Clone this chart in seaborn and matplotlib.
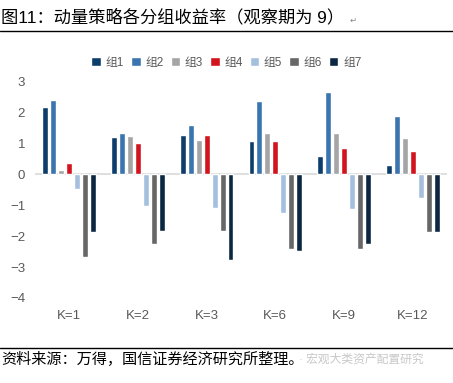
import pandas as pd
import numpy as np
import matplotlib
matplotlib.use('Agg')
import matplotlib.pyplot as plt
from matplotlib.lines import Line2D
import seaborn as sns

# %%
# data
categories = ['K=1', 'K=2', 'K=3', 'K=6', 'K=9', 'K=12']
groups = ['组1', '组2', '组3', '组4', '组5', '组6', '组7']
g1 = [2.17, 1.22, 1.28, 1.09, 0.60, 0.30]
g2 = [2.42, 1.35, 1.61, 2.36, 2.66, 1.90]
g3 = [0.15, 1.25, 1.12, 1.35, 1.35, 1.18]
g4 = [0.35, 1.00, 1.28, 1.09, 0.86, 0.76]
g5 = [-0.48, -1.04, -1.09, -1.26, -1.12, -0.75]
g6 = [-2.67, -2.24, -1.83, -2.43, -2.43, -1.88]
g7 = [-1.88, -1.83, -2.76, -2.49, -2.24, -1.88]
colors = ['#0D3D6B', '#3B75AF', '#A5A5A5', '#D2141E', '#A4C0DE', '#676767', '#0C2741']

# %%
# long format for seaborn
values = [g1, g2, g3, g4, g5, g6, g7]
rows = []
for grp, vals in zip(groups, values):
    for cat, v in zip(categories, vals):
        rows.append({'K': cat, 'group': grp, 'value': v})
df = pd.DataFrame(rows)

# %%
sns.set_style('white')
plt.rcParams['font.family'] = ['Liberation Sans', 'Noto Sans CJK SC', 'DejaVu Sans']

fig = plt.figure(figsize=(4.53, 3.83), dpi=100)
ax = fig.add_axes([0.077, 0.222, 0.91, 0.565])

sns.barplot(data=df, x='K', y='value', hue='group', order=categories,
            hue_order=groups, palette=colors, width=0.81, gap=0.25,
            saturation=1, ax=ax, legend=True)

ax.set_ylim(-4, 3)
ax.set_yticks(range(-4, 4))
ax.axhline(0, color='#D9D9D9', lw=1.2, zorder=0)
for s in ax.spines.values():
    s.set_visible(False)
ax.set_xlabel('')
ax.set_ylabel('')
ax.tick_params(axis='both', length=0, labelsize=9.5, colors='#595959')
ax.tick_params(axis='x', pad=9)
ax.tick_params(axis='y', pad=7)

handles, labels = ax.get_legend_handles_labels()
ax.legend_.remove()
fig.legend(handles, labels, loc='center', bbox_to_anchor=(0.5, 0.836), ncol=7,
           frameon=False, handlelength=0.8, handleheight=0.8, columnspacing=0.6,
           handletextpad=0.4, fontsize=8.5, labelcolor='#595959')

# title and source
fig.text(0.003, 0.955, '图11：动量策略各分组收益率（观察期为 9）', fontsize=12.4,
         ha='left', va='center', color='black')
fig.text(0.772, 0.945, '↵', fontsize=6, color='#888888', ha='left', va='center')
fig.add_artist(Line2D([0, 1], [0.919, 0.919], color='black', lw=1))
fig.add_artist(Line2D([0, 1], [0.091, 0.091], color='black', lw=1))
fig.text(0.003, 0.062, '资料来源：万得，国信证券经济研究所整理。', fontsize=10.9,
         ha='left', va='center', color='black')
fig.text(0.66, 0.062, '· 宏观大类资产配置研究', fontsize=8.5,
         ha='left', va='center', color='#C8C8C8')

fig.savefig('out.png', dpi=100)
plt.close()
